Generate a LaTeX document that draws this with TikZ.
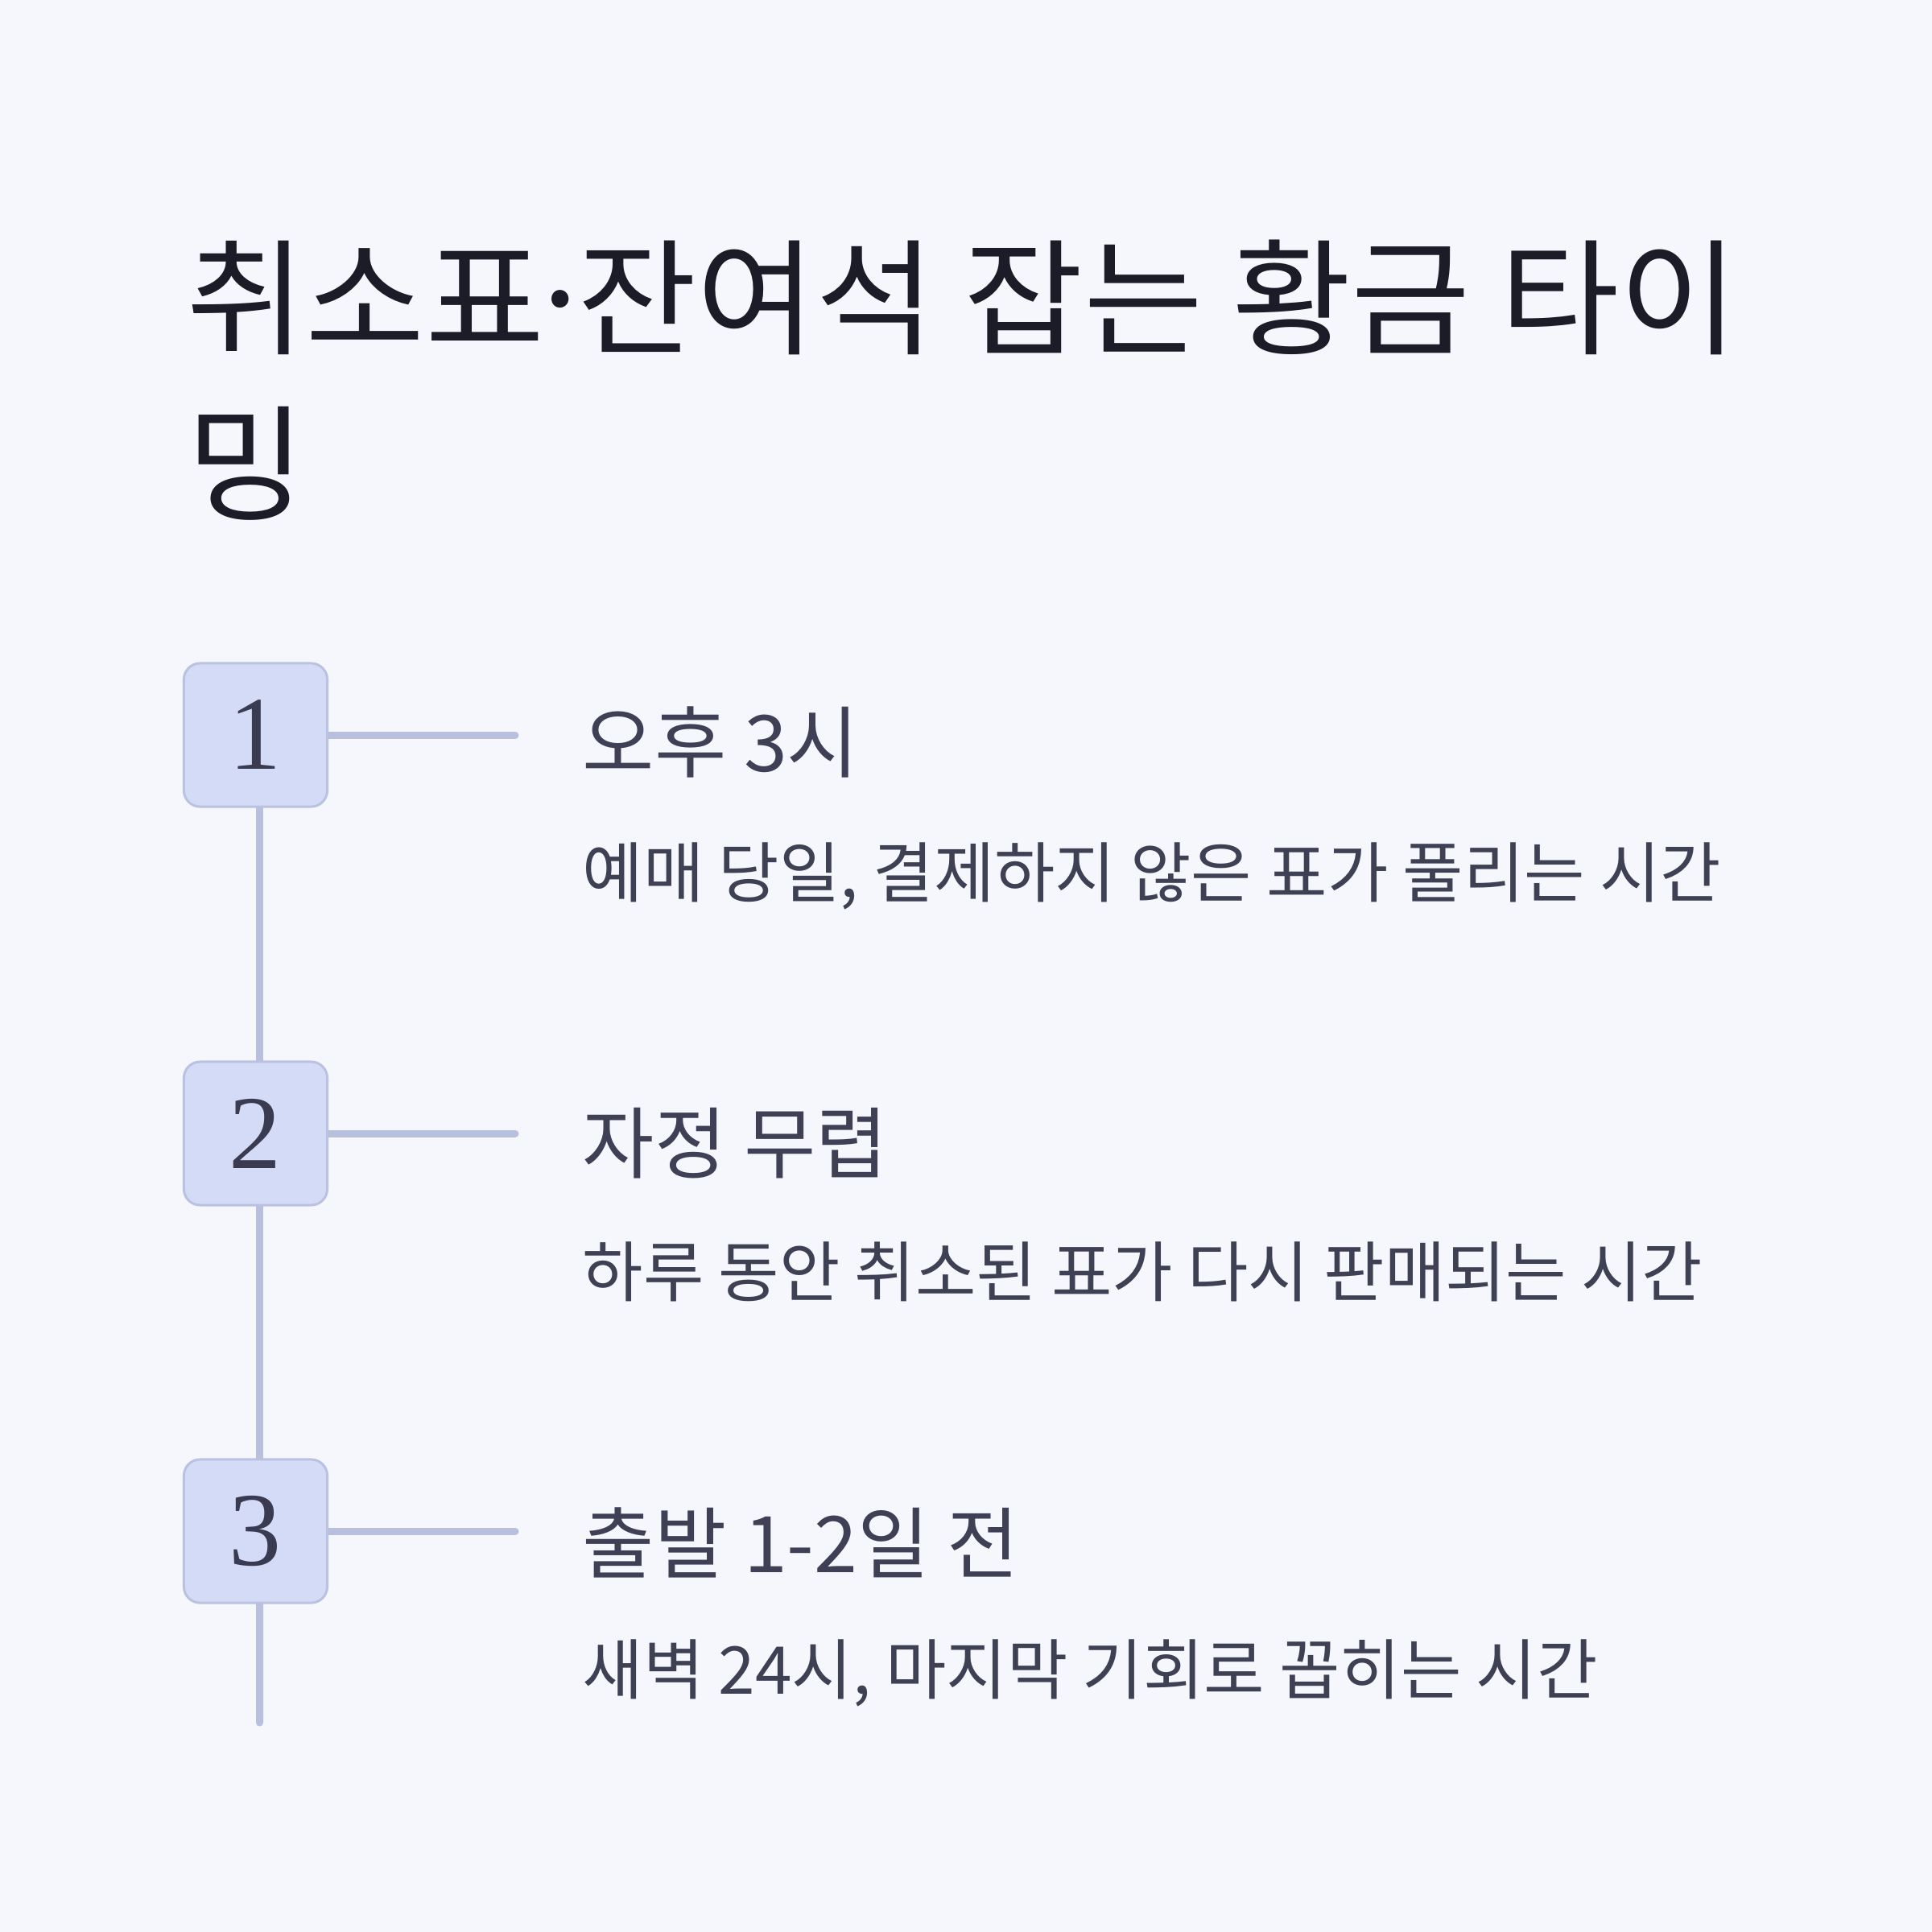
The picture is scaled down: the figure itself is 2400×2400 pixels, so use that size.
\documentclass[tikz,border=0pt]{standalone}
\usepackage{fontspec}
\newfontfamily\kr{Noto Sans CJK KR}
\newfontfamily\krtitle[FakeStretch=1.03]{Noto Sans CJK KR}
\newfontfamily\numfont{Liberation Serif}
\definecolor{bgc}{RGB}{246,247,252}
\definecolor{titlec}{RGB}{28,28,40}
\definecolor{headc}{RGB}{63,64,86}
\definecolor{descc}{RGB}{62,64,84}
\definecolor{boxfill}{RGB}{212,219,247}
\definecolor{boxline}{RGB}{186,194,224}
\definecolor{linec}{RGB}{184,192,222}
\definecolor{numc}{RGB}{58,59,80}
\pgfdeclarelayer{bglayer}
\pgfdeclarelayer{linelayer}
\pgfsetlayers{bglayer,linelayer,main}
\tikzset{
  numbox/.style={draw=boxline, fill=boxfill, line width=0.03cm, rounded corners=0.2cm,
    minimum width=1.78cm, minimum height=1.78cm, inner sep=0, text=numc,
    font=\numfont\fontsize{37}{40}\selectfont},
  conn/.style={draw=linec, line width=0.09cm, line cap=round},
  titletext/.style={anchor=base west, inner sep=0, text=titlec, font=\krtitle\fontsize{44.5}{50}\selectfont},
  headtext/.style={anchor=base west, inner sep=0, text=headc, font=\kr\fontsize{27.6}{30}\selectfont},
  desctext/.style={anchor=base west, inner sep=0, text=descc, font=\kr\fontsize{23.3}{26}\selectfont}
}
\begin{document}
\begin{tikzpicture}[x=0.01cm,y=-0.01cm]
\useasboundingbox (0,0) rectangle (2400,2400);
\begin{pgfonlayer}{bglayer}
\fill[bgc] (0,0) rectangle (2400,2400);
\end{pgfonlayer}
\node[titletext] (t1) at (231,428) {취소표\kern-0.16em·\kern-0.16em잔여석 잡는 황금 타이};
\node[titletext] (t2) at (231,634) {밍};

\node[numbox] (b1) at (317.5,913) {1};
\node[numbox] (b2) at (317.5,1408) {2};
\node[numbox] (b3) at (317.5,1902) {3};

\coordinate (c1) at (640,913);
\coordinate (c2) at (640,1408);
\coordinate (c3) at (640,1902);
\coordinate (vend) at (322.5,2140);

\begin{pgfonlayer}{linelayer}
\draw[conn] ([xshift=0.05cm]b1.center) -- ([xshift=0.05cm]b2.center);
\draw[conn] ([xshift=0.05cm]b2.center) -- ([xshift=0.05cm]b3.center);
\draw[conn] ([xshift=0.05cm]b3.center) -- (vend);
\draw[conn] (b1) -- (c1);
\draw[conn] (b2) -- (c2);
\draw[conn] (b3) -- (c3);
\end{pgfonlayer}

\node[headtext] (h1) at (723,958) {오후 3시};
\node[desctext] (d1) at (723,1114) {예매 당일, 결제하지 않은 표가 풀리는 시간};
\node[headtext] (h2) at (723,1456) {자정 무렵};
\node[desctext] (d2) at (723,1610) {하루 동안 취소된 표가 다시 판매되는 시간};
\node[headtext] (h3) at (723,1953) {출발 1-2일 전};
\node[desctext] (d3) at (723,2104) {새벽 24시, 마지막 기회로 꼽히는 시간};
\end{tikzpicture}
\end{document}
